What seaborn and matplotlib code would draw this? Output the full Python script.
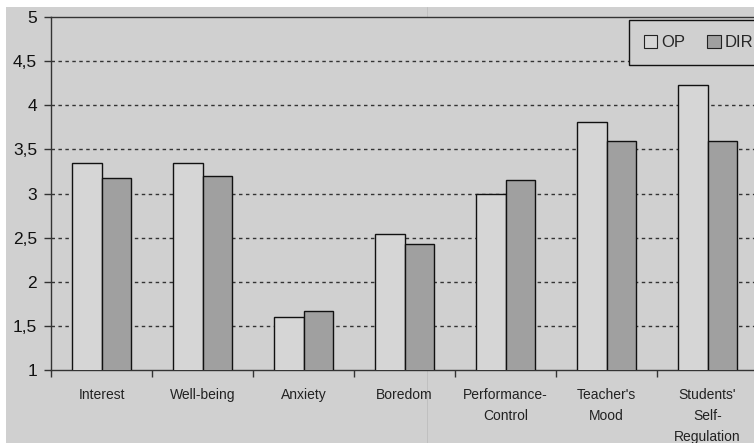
import matplotlib
matplotlib.use("Agg")
import matplotlib.pyplot as plt
from matplotlib.patches import Rectangle, Patch
from matplotlib.lines import Line2D
from matplotlib.ticker import FixedLocator, FuncFormatter
import seaborn as sns
import pandas as pd

categories = ["Interest", "Well-being", "Anxiety", "Boredom",
              "Performance-\nControl", "Teacher's\nMood", "Students'\nSelf-\nRegulation"]
op_values = [3.34, 3.34, 1.60, 2.54, 3.00, 3.81, 4.23]
dir_values = [3.18, 3.20, 1.67, 2.43, 3.15, 3.60, 3.60]
series = ["OP", "DIR"]
y_ticks = [1, 1.5, 2, 2.5, 3, 3.5, 4, 4.5, 5]

df = pd.DataFrame({
    "category": categories * 2,
    "value": op_values + dir_values,
    "series": [series[0]] * len(categories) + [series[1]] * len(categories),
})

sns.set_style("white")
plt.rcParams["font.family"] = ["Liberation Sans", "DejaVu Sans"]

W, H = 754, 443
fig = plt.figure(figsize=(W / 100, H / 100), dpi=100)
fig.patch.set_facecolor("white")
bg = "#d0d0d0"
fig.add_artist(Rectangle((6 / W, 0), 1, 1 - 7 / H, transform=fig.transFigure,
                         facecolor=bg, edgecolor="none", zorder=-10))

left, right, top, bottom = 51, 758, 17, 370
ax = fig.add_axes([left / W, (H - bottom) / H, (right - left) / W, (bottom - top) / H])
ax.set_facecolor(bg)

palette = {"OP": "#d6d6d6", "DIR": "#a0a0a0"}
sns.barplot(data=df, x="category", y="value", hue="series", order=categories,
            hue_order=series, palette=palette, width=0.575, edgecolor="#111111",
            linewidth=1.0, saturation=1, ax=ax, legend=False, zorder=3)

ax.set_xlim(-0.5, len(categories) - 0.5)
ax.set_ylim(1, 5)
ax.set_xlabel("")
ax.set_ylabel("")

ax.yaxis.set_major_locator(FixedLocator(y_ticks))
ax.yaxis.set_major_formatter(FuncFormatter(lambda v, p: (f"{v:g}").replace(".", ",")))
ax.tick_params(axis="y", length=5, width=1, color="#333333", labelsize=12.5,
               labelcolor="#111111", pad=5, left=True)
for yv in y_ticks[1:-1]:
    ax.axhline(yv, color="#333333", linestyle=(0, (2.5, 2.5)), linewidth=1.0, zorder=1)

ax.set_xticks(range(len(categories)))
ax.set_xticklabels(categories, fontsize=10, color="#222222", linespacing=1.65)
ax.tick_params(axis="x", which="major", length=0, pad=13)
ax.set_xticks([i - 0.5 for i in range(len(categories) + 1)], minor=True)
ax.tick_params(axis="x", which="minor", length=5, width=1, color="#333333", bottom=True)

for s in ["left", "bottom", "top", "right"]:
    ax.spines[s].set_color("#333333")
    ax.spines[s].set_linewidth(1.0)

handles = [Patch(facecolor=palette[s], edgecolor="#222222", linewidth=0.8, label=s) for s in series]
leg = ax.legend(handles=handles, loc="upper left",
                bbox_to_anchor=((629 - left) / (right - left), 1 - (20 - top) / (bottom - top)),
                ncol=2, frameon=True, fancybox=False, fontsize=12, framealpha=1,
                handlelength=0.8, handleheight=0.8, handletextpad=0.25, columnspacing=1.3,
                borderpad=0.9, borderaxespad=0)
leg.get_frame().set_facecolor(bg)
leg.get_frame().set_edgecolor("#111111")
leg.get_frame().set_linewidth(1.0)
leg.set_zorder(5)

fig.add_artist(Line2D([427 / W, 427 / W], [0, 1 - 7 / H], transform=fig.transFigure,
                      color="#bdbdbd", linewidth=0.6, zorder=-5))

fig.savefig("out.png", dpi=100, facecolor=fig.get_facecolor())
